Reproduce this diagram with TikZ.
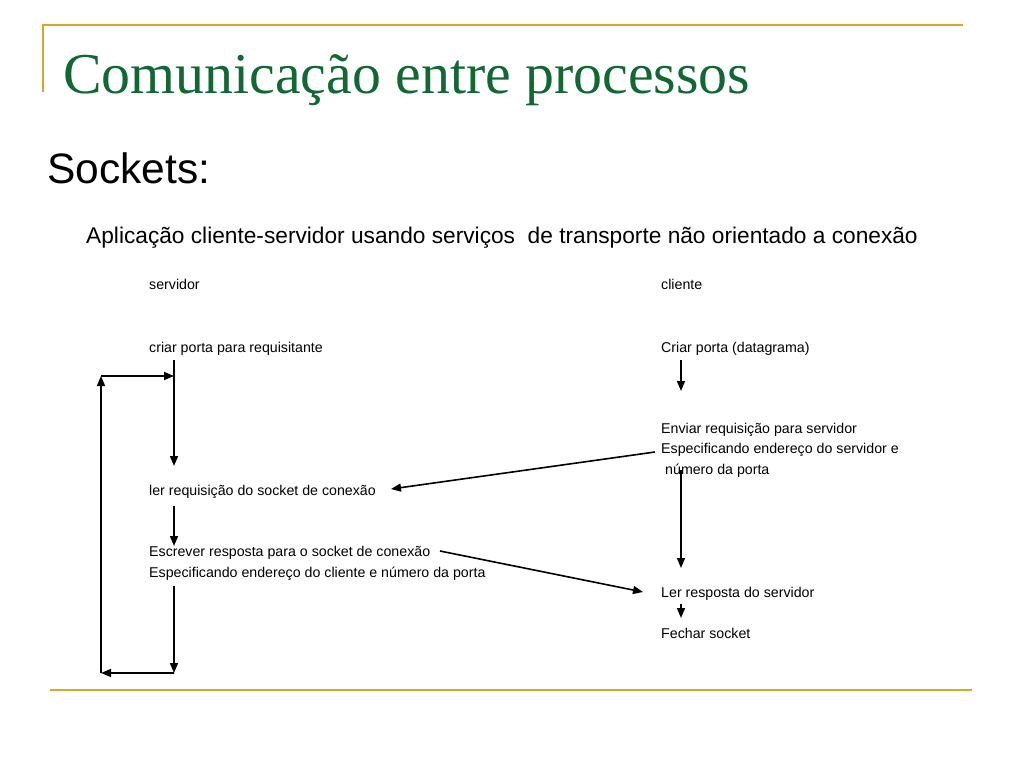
\documentclass[tikz,border=0pt]{standalone}
\usepackage{fontspec}
\setmainfont{Liberation Sans}
\newfontfamily\titlefont{Liberation Serif}
\usetikzlibrary{arrows.meta}
\definecolor{gold}{RGB}{214,168,40}
\definecolor{titlegreen}{RGB}{18,104,52}
\tikzset{
  lbl/.style={anchor=base west, inner sep=0pt, font=\fontsize{14.2}{17}\selectfont},
  arr/.style={line width=1.6pt, -{Triangle[length=10pt,width=8pt]}},
  rule/.style={draw=gold, line width=2pt}
}
\begin{document}
\begin{tikzpicture}[x=1pt,y=-1pt]
\useasboundingbox[fill=white] (0,0) rectangle (1024,768);
% decorative rules
\draw[rule] (43,92) -- (43,25) -- (963,25);
\draw[rule] (50,690) -- (972,690);
% headings
\node[anchor=base west, inner sep=0pt, text=titlegreen, font=\titlefont\fontsize{57.8}{60}\selectfont] (title) at (63,93) {Comunicação entre processos};
\node[anchor=base west, inner sep=0pt, font=\fontsize{42.5}{46}\selectfont] (sockets) at (47,183) {Sockets:};
\node[anchor=base west, inner sep=0pt, font=\fontsize{22.7}{26}\selectfont] (sub) at (86,243) {Aplicação cliente-servidor usando serviços\ \ de transporte não orientado a conexão};
% server side
\node[lbl] (srv) at (149,289) {servidor};
\node[lbl] (s1) at (149,352) {criar porta para requisitante};
\node[lbl] (s2) at (149,495) {ler requisição do socket de conexão};
\node[lbl] (s3) at (149,556) {Escrever resposta para o socket de conexão};
\node[lbl] (s4) at (149,577) {Especificando endereço do cliente e número da porta};
% client side
\node[lbl] (cli) at (661,289) {cliente};
\node[lbl] (c1) at (661,352) {Criar porta (datagrama)};
\node[lbl] (c2) at (661,433) {Enviar requisição para servidor};
\node[lbl] (c3) at (661,453) {Especificando endereço do servidor e};
\node[lbl] (c4) at (665,474) {número da porta};
\node[lbl] (c5) at (661,597) {Ler resposta do servidor};
\node[lbl] (c6) at (661,638) {Fechar socket};
% coordinates for connectors
\coordinate (a1) at (174,360);
\coordinate (a2) at (174,466);
\coordinate (a3) at (174,506);
\coordinate (a4) at (174,546);
\coordinate (a5) at (174,586);
\coordinate (a6) at (174,673);
\coordinate (l1) at (101,673);
\coordinate (l2) at (101,376);
\coordinate (l3) at (174,376);
\coordinate (b1) at (681,360);
\coordinate (b2) at (681,391);
\coordinate (b3) at (681,470);
\coordinate (b4) at (681,568);
\coordinate (b5) at (681,604);
\coordinate (b6) at (681,618);
\coordinate (d1) at (655,452);
\coordinate (d2) at (391,489);
\coordinate (e1) at (440,551);
\coordinate (e2) at (643,592);
% connectors
\draw[arr] (a1) -- (a2);
\draw[arr] (a3) -- (a4);
\draw[arr] (a5) -- (a6);
\draw[arr] (a6) -- (l1);
\draw[arr] (l1) -- (l2);
\draw[arr] (l2) -- (l3);
\draw[arr] (b1) -- (b2);
\draw[arr] (b3) -- (b4);
\draw[arr] (b5) -- (b6);
\draw[arr] (d1) -- (d2);
\draw[arr] (e1) -- (e2);
\end{tikzpicture}
\end{document}
